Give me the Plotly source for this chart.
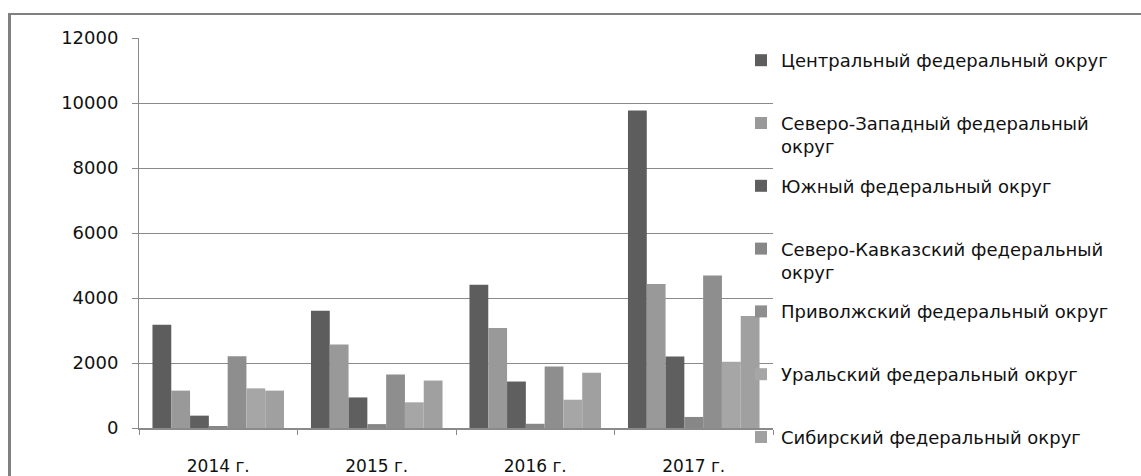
import plotly.graph_objects as go

# Categories (years) and values per federal district
years = ["2014 г.", "2015 г.", "2016 г.", "2017 г."]

central = [3180, 3610, 4410, 9770]
north_west = [1150, 2570, 3080, 4430]
south = [380, 940, 1430, 2200]
north_caucasus = [40, 120, 130, 340]
volga = [2210, 1650, 1890, 4690]
ural = [1220, 790, 870, 2040]
siberia = [1150, 1460, 1700, 3450]

series_names = [
    "Центральный федеральный округ",
    "Северо-Западный федеральный<br>округ",
    "Южный федеральный округ",
    "Северо-Кавказский федеральный<br>округ",
    "Приволжский федеральный округ",
    "Уральский федеральный округ",
    "Сибирский федеральный округ",
]
series_values = [central, north_west, south, north_caucasus, volga, ural, siberia]
series_colors = ["#5d5d5d", "#999999", "#5f5f5f", "#878787", "#8e8e8e", "#a6a6a6", "#a0a0a0"]

FONT = "DejaVu Sans"
GRID = "#8a8a8a"
TEXT = "#111111"

fig = go.Figure()
n = len(series_names)
for i, (name, vals, color) in enumerate(zip(series_names, series_values, series_colors)):
    # entries take two text lines each so they are evenly spaced (last one needs no padding)
    label = name if ("<br>" in name or i == n - 1) else name + "<br>\u00a0"
    fig.add_trace(go.Bar(
        x=years, y=vals, name=label,
        marker=dict(color=color, line=dict(width=0)),
        legendgroup=f"g{i}",
    ))

W, H = 1141, 476
L, R, T, B = 139, 368, 38, 48
pw, ph = W - L - R, H - T - B


def px_x(x):
    return (x - L) / pw


def px_y(y):
    return (H - B - y) / ph


fig.update_layout(
    width=W, height=H,
    margin=dict(l=L, r=R, t=T, b=B, autoexpand=False),
    paper_bgcolor="white", plot_bgcolor="white",
    barmode="group", bargap=0.17, bargroupgap=0,
    font=dict(family=FONT, size=18, color=TEXT),
    showlegend=True,
    legend=dict(
        x=px_x(741), y=px_y(42), xanchor="left", yanchor="top",
        valign="top", tracegroupgap=13, maxheight=470,
        font=dict(family=FONT, size=18, color=TEXT),
        bgcolor="rgba(0,0,0,0)", itemclick=False, itemdoubleclick=False,
    ),
    xaxis=dict(
        type="category", showgrid=False,
        showline=True, linecolor=GRID, linewidth=2,
        ticks="outside", tickson="boundaries", ticklen=5, tickcolor=GRID,
        ticklabelstandoff=22,
        tickfont=dict(family=FONT, size=17, color=TEXT),
    ),
    yaxis=dict(
        range=[0, 12000], tickvals=[0, 2000, 4000, 6000, 8000, 10000, 12000],
        ticktext=["0", "2000", "4000", "6000", "8000", "10000", "12000"],
        showgrid=True, gridcolor=GRID, gridwidth=1,
        zeroline=False,
        showline=True, linecolor=GRID, linewidth=1,
        ticks="outside", ticklen=6, tickcolor=GRID,
        ticklabelstandoff=10,
        tickfont=dict(family=FONT, size=18, color=TEXT),
    ),
    shapes=[
        # chart frame (left and top edges)
        dict(type="line", xref="paper", yref="paper",
             x0=px_x(9.5), x1=px_x(9.5), y0=px_y(14), y1=px_y(480),
             line=dict(color="#808080", width=3)),
        dict(type="line", xref="paper", yref="paper",
             x0=px_x(8), x1=px_x(1145), y0=px_y(14), y1=px_y(14),
             line=dict(color="#808080", width=2)),
    ],
)

fig.write_html("out.html")
